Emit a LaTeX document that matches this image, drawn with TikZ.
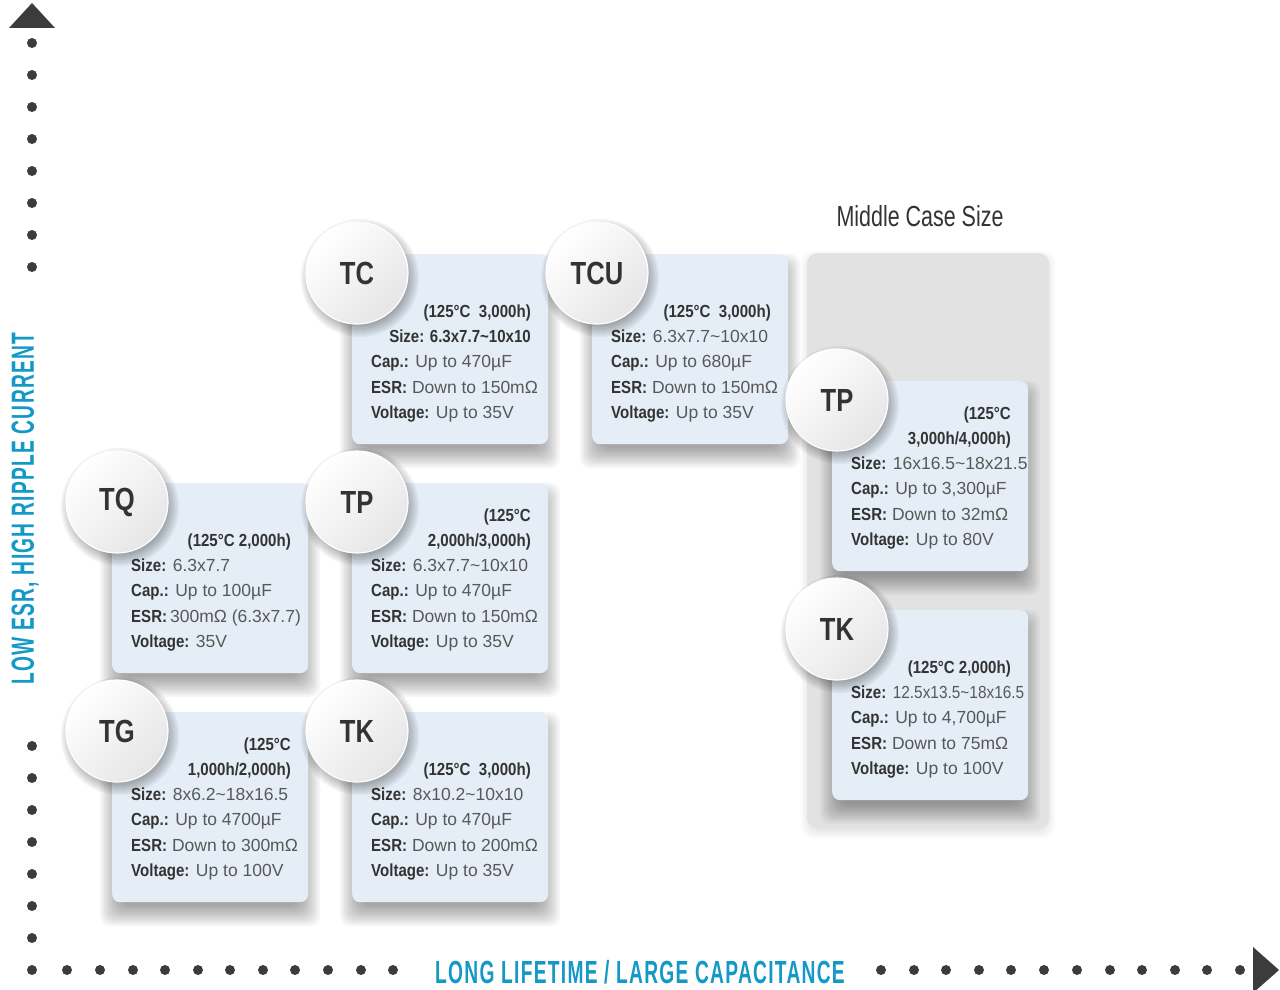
\documentclass[tikz,border=0pt]{standalone}
\usepackage{fontspec}
\usepackage{graphicx}
\setmainfont{Liberation Sans}
\newfontfamily\condf{Liberation Sans}[FakeStretch=0.86]
\newfontfamily\titlef{Liberation Sans}[FakeStretch=0.8]
\newfontfamily\axisf{Liberation Sans}[FakeStretch=0.6, LetterSpace=4]
\newfontfamily\midf{Liberation Sans}[FakeStretch=0.74]
\usetikzlibrary{calc}

\definecolor{cardfill}{HTML}{E5EEF7}
\definecolor{boxfill}{HTML}{E2E2E2}
\definecolor{dotc}{HTML}{3C3C3C}
\definecolor{titlec}{HTML}{333333}
\definecolor{bodyc}{HTML}{585858}
\definecolor{axisc}{HTML}{1499C6}

\newcommand\bl[1]{{\condf\bfseries\color{titlec}#1}}
\newcommand\tl{\textasciitilde}
% soft shadow under a card whose top-left corner is (#1,#2)
\newcommand\cardshadow[2]{%
  \foreach \s in {-8,-6,...,12}
    \fill[shadowlayer] ({#1-\s},{#2+12-\s}) rectangle ({#1+196+\s},{#2+202+\s});}
\newcommand\mkcard[3]{\node[card] (#1) at (#2,#3) {};}
\newcommand\mkbadge[2]{%
  \foreach \s in {-4,-2,...,8}
    \fill[black, opacity=0.05] ($(#1.north west)+(8,24)$) circle[radius={51+\s}];
  \node[badge] (#1b) at ($(#1.north west)+(5,19)$) {#2};}
\newcommand\hdrline[4]{\node[hdr] (#1) at ($(#2.north west)+(179,#3)$) {#4};}
\newcommand\bodyline[4]{\node[bodyl] (#1) at ($(#2.north west)+(19,#3)$) {#4};}

\tikzset{
 shadowlayer/.style={black, opacity=0.035, rounded corners=10pt},
 card/.style={fill=cardfill, rounded corners=8pt, minimum width=196pt, minimum height=190pt,
   inner sep=0pt, anchor=north west},
 badge/.style={circle, minimum size=102pt, inner sep=0pt, shading=axis, top color=white,
   bottom color=gray!20, shading angle=45, draw=white, line width=1.2pt,
   font=\titlef\bfseries\fontsize{32}{32}\selectfont, text=titlec},
 hdr/.style={inner sep=0pt, anchor=base east, font=\condf\bfseries\fontsize{17.5}{20}\selectfont, text=titlec},
 bodyl/.style={inner sep=0pt, anchor=base west, font=\fontsize{17.5}{20}\selectfont, text=bodyc},
 axlab/.style={inner sep=0pt, anchor=base, font=\axisf\bfseries\fontsize{32}{32}\selectfont, text=axisc},
}

\begin{document}
\begin{tikzpicture}[x=1pt,y=-1pt]
\useasboundingbox (0,0) rectangle (1280,990);
\fill[white] (0,0) rectangle (1280,990);

% axes
\fill[dotc] (32,3) -- (55,28) -- (9,28) -- cycle;
\foreach \yy in {43,75,...,267} \fill[dotc] (32,\yy) circle[radius=5];
\foreach \yy in {746,778,...,938} \fill[dotc] (32,\yy) circle[radius=5];
\foreach \xx in {32,67,100,133,165,198,230,263,295,328,361,393,881,914,946,979,1011,1044,1077,1110,1142,1175,1207,1240}
  \fill[dotc] (\xx,970) circle[radius=5];
\fill[dotc] (1253,947) -- (1279,970) -- (1253,993) -- cycle;

\node[axlab] (xlab) at (640,983) {LONG LIFETIME / LARGE CAPACITANCE};
\node[axlab, rotate=90] (ylab) at (34,508.5) {LOW ESR, HIGH RIPPLE CURRENT};

% middle case size box
\node[inner sep=0pt, anchor=base, font=\midf\fontsize{29}{30}\selectfont, text=titlec] (mcs) at (920,226) {Middle Case Size};
\foreach \s in {-2,0,...,6}
  \fill[black, opacity=0.018, rounded corners=12pt] ({807-\s},{253+4-\s}) rectangle ({1049+\s},{828+4+\s});
\node[fill=boxfill, rounded corners=10pt, minimum width=242pt, minimum height=575pt, anchor=north west, inner sep=0pt] (midbox) at (807,253) {};

% card shadows
\cardshadow{352}{254}
\cardshadow{592}{254}
\cardshadow{112}{483}
\cardshadow{352}{483}
\cardshadow{112}{712}
\cardshadow{352}{712}
\cardshadow{832}{381}
\cardshadow{832}{610}

% cards
\mkcard{tc}{352}{254}
\mkcard{tcu}{592}{254}
\mkcard{tq}{112}{483}
\mkcard{tpm}{352}{483}
\mkcard{tg}{112}{712}
\mkcard{tkm}{352}{712}
\mkcard{tpr}{832}{381}
\mkcard{tkr}{832}{610}

% TC
\hdrline{tc1}{tc}{63.3}{(125°C\ \ 3,000h)}
\hdrline{tc2}{tc}{88.6}{Size: 6.3x7.7\tl10x10}
\bodyline{tc3}{tc}{113.9}{\bl{Cap.:} Up to 470µF}
\bodyline{tc4}{tc}{139.2}{\bl{ESR:} Down to 150mΩ}
\bodyline{tc5}{tc}{164.5}{\bl{Voltage:} Up to 35V}
% TCU
\hdrline{tcu1}{tcu}{63.3}{(125°C\ \ 3,000h)}
\bodyline{tcu2}{tcu}{88.6}{\bl{Size:} 6.3x7.7\tl10x10}
\bodyline{tcu3}{tcu}{113.9}{\bl{Cap.:} Up to 680µF}
\bodyline{tcu4}{tcu}{139.2}{\bl{ESR:} Down to 150mΩ}
\bodyline{tcu5}{tcu}{164.5}{\bl{Voltage:} Up to 35V}
% TQ
\hdrline{tq1}{tq}{63.3}{(125°C 2,000h)}
\bodyline{tq2}{tq}{88.6}{\bl{Size:} 6.3x7.7}
\bodyline{tq3}{tq}{113.9}{\bl{Cap.:} Up to 100µF}
\bodyline{tq4}{tq}{139.2}{\bl{ESR:}\,300mΩ (6.3x7.7)}
\bodyline{tq5}{tq}{164.5}{\bl{Voltage:} 35V}
% TP middle
\hdrline{tpm0}{tpm}{38}{(125°C}
\hdrline{tpm1}{tpm}{63.3}{2,000h/3,000h)}
\bodyline{tpm2}{tpm}{88.6}{\bl{Size:} 6.3x7.7\tl10x10}
\bodyline{tpm3}{tpm}{113.9}{\bl{Cap.:} Up to 470µF}
\bodyline{tpm4}{tpm}{139.2}{\bl{ESR:} Down to 150mΩ}
\bodyline{tpm5}{tpm}{164.5}{\bl{Voltage:} Up to 35V}
% TG
\hdrline{tg0}{tg}{38}{(125°C}
\hdrline{tg1}{tg}{63.3}{1,000h/2,000h)}
\bodyline{tg2}{tg}{88.6}{\bl{Size:} 8x6.2\tl18x16.5}
\bodyline{tg3}{tg}{113.9}{\bl{Cap.:} Up to 4700µF}
\bodyline{tg4}{tg}{139.2}{\bl{ESR:} Down to 300mΩ}
\bodyline{tg5}{tg}{164.5}{\bl{Voltage:} Up to 100V}
% TK middle
\hdrline{tkm1}{tkm}{63.3}{(125°C\ \ 3,000h)}
\bodyline{tkm2}{tkm}{88.6}{\bl{Size:} 8x10.2\tl10x10}
\bodyline{tkm3}{tkm}{113.9}{\bl{Cap.:} Up to 470µF}
\bodyline{tkm4}{tkm}{139.2}{\bl{ESR:} Down to 200mΩ}
\bodyline{tkm5}{tkm}{164.5}{\bl{Voltage:} Up to 35V}
% TP right
\hdrline{tpr0}{tpr}{38}{(125°C}
\hdrline{tpr1}{tpr}{63.3}{3,000h/4,000h)}
\bodyline{tpr2}{tpr}{88.6}{\bl{Size:} 16x16.5\tl18x21.5}
\bodyline{tpr3}{tpr}{113.9}{\bl{Cap.:} Up to 3,300µF}
\bodyline{tpr4}{tpr}{139.2}{\bl{ESR:} Down to 32mΩ}
\bodyline{tpr5}{tpr}{164.5}{\bl{Voltage:} Up to 80V}
% TK right
\hdrline{tkr1}{tkr}{63.3}{(125°C 2,000h)}
\bodyline{tkr2}{tkr}{88.6}{\bl{Size:} \scalebox{0.88}[1]{12.5x13.5\tl18x16.5}}
\bodyline{tkr3}{tkr}{113.9}{\bl{Cap.:} Up to 4,700µF}
\bodyline{tkr4}{tkr}{139.2}{\bl{ESR:} Down to 75mΩ}
\bodyline{tkr5}{tkr}{164.5}{\bl{Voltage:} Up to 100V}

% badges
\mkbadge{tc}{TC}
\mkbadge{tcu}{TCU}
\mkbadge{tq}{TQ}
\mkbadge{tpm}{TP}
\mkbadge{tg}{TG}
\mkbadge{tkm}{TK}
\mkbadge{tpr}{TP}
\mkbadge{tkr}{TK}
\end{tikzpicture}
\end{document}
